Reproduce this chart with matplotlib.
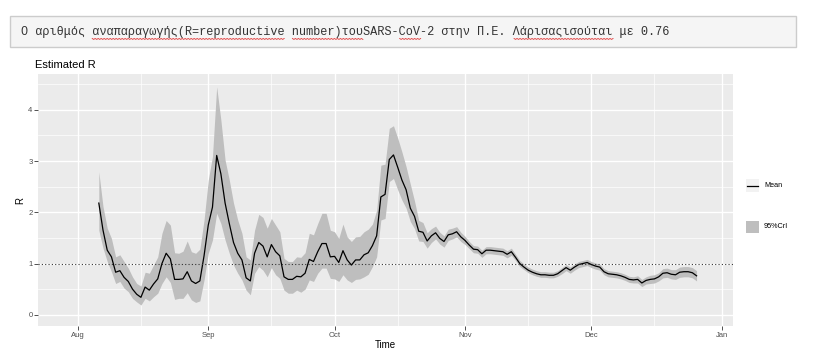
import numpy as np
import pandas as pd
import matplotlib
matplotlib.use("Agg")
import matplotlib.pyplot as plt
import matplotlib.dates as mdates
from matplotlib.patches import Rectangle
from matplotlib.lines import Line2D

# ---------------- data ----------------
start_date = "2020-08-06"
header_text = "Ο αριθμός αναπαραγωγής(R=reproductive number)τουSARS-CoV-2 στην Π.Ε. Λάρισαςισούται με 0.76"
chart_title = "Estimated R"
x_label = "Time"
y_label = "R"
legend_labels = ["Mean", "95%CrI"]
y_ticks = [0, 1, 2, 3, 4]
x_tick_labels = ["Aug", "Sep", "Oct", "Nov", "Dec", "Jan"]
x_tick_dates = ["2020-08-01", "2020-09-01", "2020-10-01", "2020-11-01", "2020-12-01", "2021-01-01"]
x_minor_dates = ["2020-08-16", "2020-09-16", "2020-10-16", "2020-11-16", "2020-12-16"]

r_mean = [
    2.18, 1.65, 1.26, 1.13, 0.83, 0.86, 0.73, 0.65, 0.50, 0.40,
    0.34, 0.54, 0.48, 0.60, 0.70, 1.00, 1.20, 1.09, 0.69, 0.69,
    0.70, 0.84, 0.66, 0.61, 0.66, 1.15, 1.75, 2.10, 3.11, 2.75,
    2.18, 1.78, 1.41, 1.20, 1.07, 0.72, 0.66, 1.20, 1.41, 1.34,
    1.13, 1.37, 1.23, 1.15, 0.74, 0.69, 0.69, 0.75, 0.74, 0.81,
    1.08, 1.04, 1.23, 1.39, 1.39, 1.13, 1.14, 1.02, 1.25, 1.07,
    0.97, 1.07, 1.07, 1.17, 1.21, 1.35, 1.54, 2.30, 2.35, 3.03,
    3.12, 2.88, 2.63, 2.44, 2.08, 1.92, 1.63, 1.61, 1.44, 1.54,
    1.60, 1.49, 1.43, 1.56, 1.58, 1.62, 1.52, 1.45, 1.36, 1.28,
    1.27, 1.19, 1.26, 1.26, 1.25, 1.24, 1.23, 1.18, 1.23, 1.12,
    1.00, 0.93, 0.87, 0.83, 0.80, 0.78, 0.78, 0.77, 0.77, 0.80,
    0.86, 0.92, 0.87, 0.93, 0.98, 1.00, 1.02, 0.98, 0.95, 0.93,
    0.84, 0.80, 0.79, 0.78, 0.76, 0.73, 0.69, 0.68, 0.69, 0.62,
    0.67, 0.69, 0.70, 0.74, 0.81, 0.82, 0.79, 0.78, 0.83, 0.84,
    0.84, 0.82, 0.76,
]

r_lower = [
    1.65, 1.30, 1.04, 0.84, 0.61, 0.65, 0.52, 0.45, 0.32, 0.25,
    0.19, 0.32, 0.27, 0.35, 0.42, 0.61, 0.74, 0.63, 0.30, 0.32,
    0.32, 0.43, 0.29, 0.24, 0.27, 0.68, 1.20, 1.46, 1.98, 1.78,
    1.46, 1.20, 0.97, 0.81, 0.68, 0.48, 0.39, 0.81, 0.94, 0.87,
    0.74, 0.92, 0.78, 0.71, 0.48, 0.42, 0.42, 0.48, 0.44, 0.50,
    0.68, 0.65, 0.81, 0.91, 0.91, 0.71, 0.70, 0.65, 0.78, 0.68,
    0.63, 0.69, 0.70, 0.74, 0.79, 0.94, 1.13, 1.85, 1.88, 2.60,
    2.66, 2.44, 2.24, 2.08, 1.82, 1.68, 1.44, 1.43, 1.30, 1.41,
    1.48, 1.38, 1.32, 1.45, 1.48, 1.52, 1.43, 1.37, 1.29, 1.21,
    1.20, 1.12, 1.19, 1.19, 1.18, 1.17, 1.16, 1.11, 1.16, 1.06,
    0.94, 0.88, 0.82, 0.78, 0.75, 0.73, 0.73, 0.72, 0.72, 0.75,
    0.80, 0.86, 0.81, 0.87, 0.92, 0.94, 0.96, 0.92, 0.89, 0.87,
    0.78, 0.74, 0.73, 0.72, 0.70, 0.67, 0.63, 0.62, 0.62, 0.55,
    0.60, 0.61, 0.62, 0.66, 0.72, 0.73, 0.70, 0.69, 0.73, 0.74,
    0.74, 0.72, 0.66,
]

r_upper = [
    2.79, 2.11, 1.69, 1.49, 1.13, 1.17, 1.04, 0.91, 0.74, 0.61,
    0.56, 0.83, 0.81, 0.97, 1.13, 1.59, 1.84, 1.75, 1.21, 1.20,
    1.24, 1.44, 1.23, 1.20, 1.28, 1.85, 2.63, 3.09, 4.45, 3.80,
    3.02, 2.63, 2.18, 1.85, 1.59, 1.13, 1.07, 1.65, 1.96, 1.90,
    1.69, 1.88, 1.75, 1.62, 1.10, 1.04, 1.04, 1.13, 1.12, 1.21,
    1.59, 1.56, 1.78, 1.98, 1.98, 1.65, 1.62, 1.49, 1.77, 1.52,
    1.43, 1.52, 1.53, 1.62, 1.67, 1.77, 2.04, 2.92, 2.94, 3.64,
    3.69, 3.45, 3.18, 2.89, 2.55, 2.22, 1.84, 1.80, 1.60, 1.68,
    1.73, 1.61, 1.54, 1.67, 1.69, 1.72, 1.61, 1.53, 1.43, 1.35,
    1.34, 1.26, 1.33, 1.33, 1.32, 1.31, 1.30, 1.25, 1.30, 1.18,
    1.06, 0.99, 0.93, 0.89, 0.86, 0.84, 0.84, 0.83, 0.83, 0.86,
    0.92, 0.98, 0.93, 0.99, 1.04, 1.06, 1.08, 1.04, 1.01, 0.99,
    0.90, 0.86, 0.85, 0.84, 0.82, 0.79, 0.75, 0.74, 0.76, 0.69,
    0.74, 0.77, 0.78, 0.82, 0.90, 0.91, 0.88, 0.88, 0.93, 0.94,
    0.94, 0.92, 0.86,
]

dates = pd.date_range(start_date, periods=len(r_mean), freq="D")

# ---------------- figure ----------------
W, H = 813, 352
fig = plt.figure(figsize=(W / 100, H / 100), dpi=100)
fig.patch.set_facecolor("white")


def fx(px):
    return px / W


def fy(py):
    return 1 - py / H


# header box
fig.add_artist(Rectangle((fx(10), fy(47)), fx(796) - fx(10), fy(16) - fy(47),
                         transform=fig.transFigure, facecolor="#F5F5F5",
                         edgecolor="#CCCCCC", linewidth=1.0))
char_w = 7.15
x0_text = 20.7
fig.text(fx(x0_text), fy(32.5), header_text, fontsize=8.6,
         family=["Liberation Mono", "DejaVu Sans Mono"], color="#333333",
         va="center", ha="left")
# spell-check squiggles
for a, b in [(10, 37), (38, 48), (53, 56), (69, 83)]:
    xs = np.arange(x0_text + a * char_w, x0_text + b * char_w, 1.5)
    ys = 38.5 + 0.9 * (np.arange(len(xs)) % 2)
    fig.add_artist(Line2D(fx(xs), fy(ys), transform=fig.transFigure,
                          color="#E03030", linewidth=0.6))

# panel
ax = fig.add_axes([fx(38.3), fy(326), fx(732.7) - fx(38.3), fy(74) - fy(326)])
ax.set_facecolor("#EBEBEB")
for s in ax.spines.values():
    s.set_visible(False)

ax.fill_between(dates, r_lower, r_upper, color="#BEBEBE", linewidth=0, zorder=2)
ax.plot(dates, r_mean, color="black", linewidth=0.9, zorder=3)
ax.axhline(1, color="#333333", linestyle=(0, (1, 2)), linewidth=0.8, zorder=4)

ax.set_xticks(pd.to_datetime(x_tick_dates))
ax.set_xticklabels(x_tick_labels)
ax.set_xticks(pd.to_datetime(x_minor_dates), minor=True)
ax.set_yticks(y_ticks)
ax.set_yticklabels([str(v) for v in y_ticks])
ax.set_yticks([0.5, 1.5, 2.5, 3.5, 4.5], minor=True)

ax.set_xlim(mdates.date2num(pd.Timestamp("2020-07-22 15:00")),
            mdates.date2num(pd.Timestamp("2021-01-03 14:00")))
ax.set_ylim(-0.22, 4.70)

ax.grid(which="major", color="white", linewidth=1.0, zorder=0)
ax.grid(which="minor", color="white", linewidth=0.5, zorder=0)
ax.set_axisbelow(True)

ax.tick_params(which="major", length=2.7, width=0.6, color="#333333",
               labelsize=5.5, labelcolor="#4D4D4D", pad=1.5)
ax.tick_params(which="minor", length=0)

ax.set_xlabel(x_label, fontsize=7, family="Liberation Sans", labelpad=1)
ax.set_ylabel(y_label, fontsize=7, family="Liberation Sans", labelpad=2)
for lbl in ax.get_xticklabels() + ax.get_yticklabels():
    lbl.set_family("Liberation Sans")

fig.text(fx(35), fy(65), chart_title, fontsize=8, family="Liberation Sans",
         va="center", ha="left", color="black")

# legend
fig.add_artist(Rectangle((fx(746), fy(192)), fx(759) - fx(746), fy(179) - fy(192),
                         transform=fig.transFigure, facecolor="#F2F2F2", edgecolor="none"))
fig.add_artist(Line2D([fx(747), fx(758)], [fy(185.7), fy(185.7)],
                      transform=fig.transFigure, color="black", linewidth=0.9))
fig.add_artist(Rectangle((fx(746), fy(232.5)), fx(759) - fx(746), fy(221) - fy(232.5),
                         transform=fig.transFigure, facecolor="#BEBEBE", edgecolor="none"))
fig.text(fx(764), fy(185.7), legend_labels[0], fontsize=5.2, family="Liberation Sans",
         va="center", ha="left", color="black")
fig.text(fx(764), fy(227), legend_labels[1], fontsize=5.2, family="Liberation Sans",
         va="center", ha="left", color="black")

fig.savefig("out.png", dpi=100, facecolor="white")
